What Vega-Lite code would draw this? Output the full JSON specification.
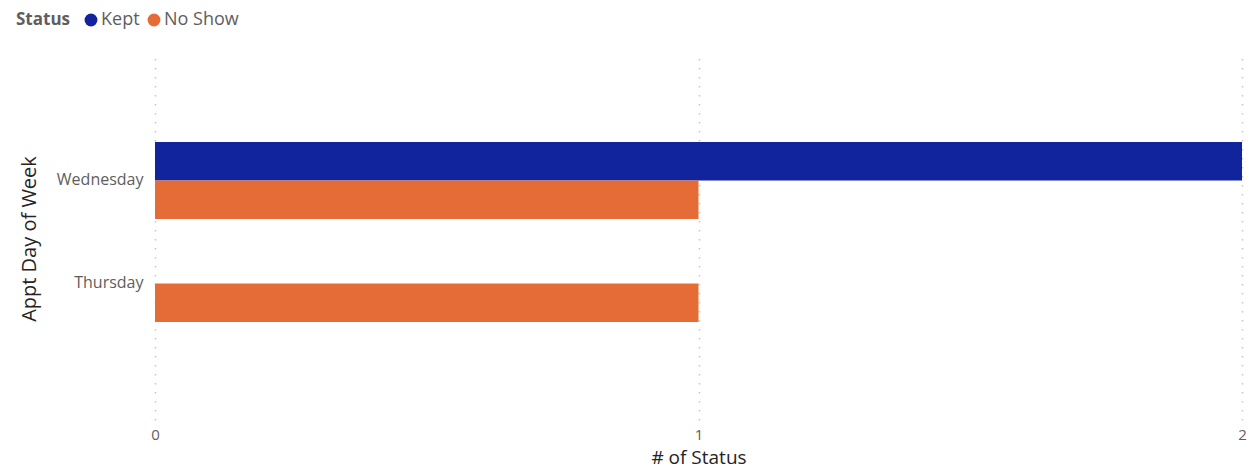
{
  "$schema": "https://vega.github.io/schema/vega-lite/v6.json",
  "width": 1087,
  "height": 363,
  "autosize": {"type": "none"},
  "padding": {"left": 155, "top": 57, "right": 14, "bottom": 56},
  "background": "white",
  "config": {
    "view": {"stroke": null},
    "font": "Open Sans"
  },
  "data": {
    "values": [
      {"day": "Wednesday", "status": "Kept", "count": 2},
      {"day": "Wednesday", "status": "No Show", "count": 1},
      {"day": "Thursday", "status": "No Show", "count": 1}
    ]
  },
  "mark": {"type": "bar"},
  "encoding": {
    "y": {
      "field": "day",
      "type": "nominal",
      "sort": ["Wednesday", "Thursday"],
      "scale": {"paddingInner": 0.252, "paddingOuter": 0.888, "align": 0.464},
      "axis": {
        "title": "Appt Day of Week",
        "titleFontSize": 20,
        "titleFontWeight": "normal",
        "titleColor": "#252423",
        "titlePadding": 17,
        "labelFontSize": 16,
        "labelColor": "#605E5C",
        "labelPadding": 12,
        "ticks": false,
        "domain": false,
        "grid": false
      }
    },
    "yOffset": {
      "field": "status",
      "type": "nominal",
      "sort": ["Kept", "No Show"]
    },
    "x": {
      "field": "count",
      "type": "quantitative",
      "scale": {"domain": [0, 2], "nice": false},
      "axis": {
        "title": "# of Status",
        "tickCount": 2,
        "labelFlush": false,
        "labelOverlap": false,
        "titleFontSize": 19,
        "titleFontWeight": "normal",
        "titleColor": "#252423",
        "titlePadding": 6,
        "labelFontSize": 15,
        "labelColor": "#605E5C",
        "labelPadding": 7,
        "ticks": false,
        "domain": false,
        "grid": true,
        "gridColor": "#C8C6C4",
        "gridDash": [1.5, 7.5],
        "gridWidth": 1.5
      }
    },
    "color": {
      "field": "status",
      "type": "nominal",
      "sort": ["Kept", "No Show"],
      "scale": {"domain": ["Kept", "No Show"], "range": ["#12239E", "#E66C37"]},
      "legend": {
        "title": "Status",
        "orient": "none",
        "legendX": -139,
        "legendY": -46,
        "direction": "horizontal",
        "titleOrient": "left",
        "titleFontSize": 17,
        "titleFontWeight": "bold",
        "titleColor": "#605E5C",
        "titlePadding": 11,
        "labelFontSize": 18,
        "labelColor": "#605E5C",
        "labelOffset": 1,
        "symbolType": "circle",
        "symbolSize": 165,
        "symbolStrokeWidth": 0,
        "symbolOpacity": 1,
        "columnPadding": 5
      }
    }
  }
}
